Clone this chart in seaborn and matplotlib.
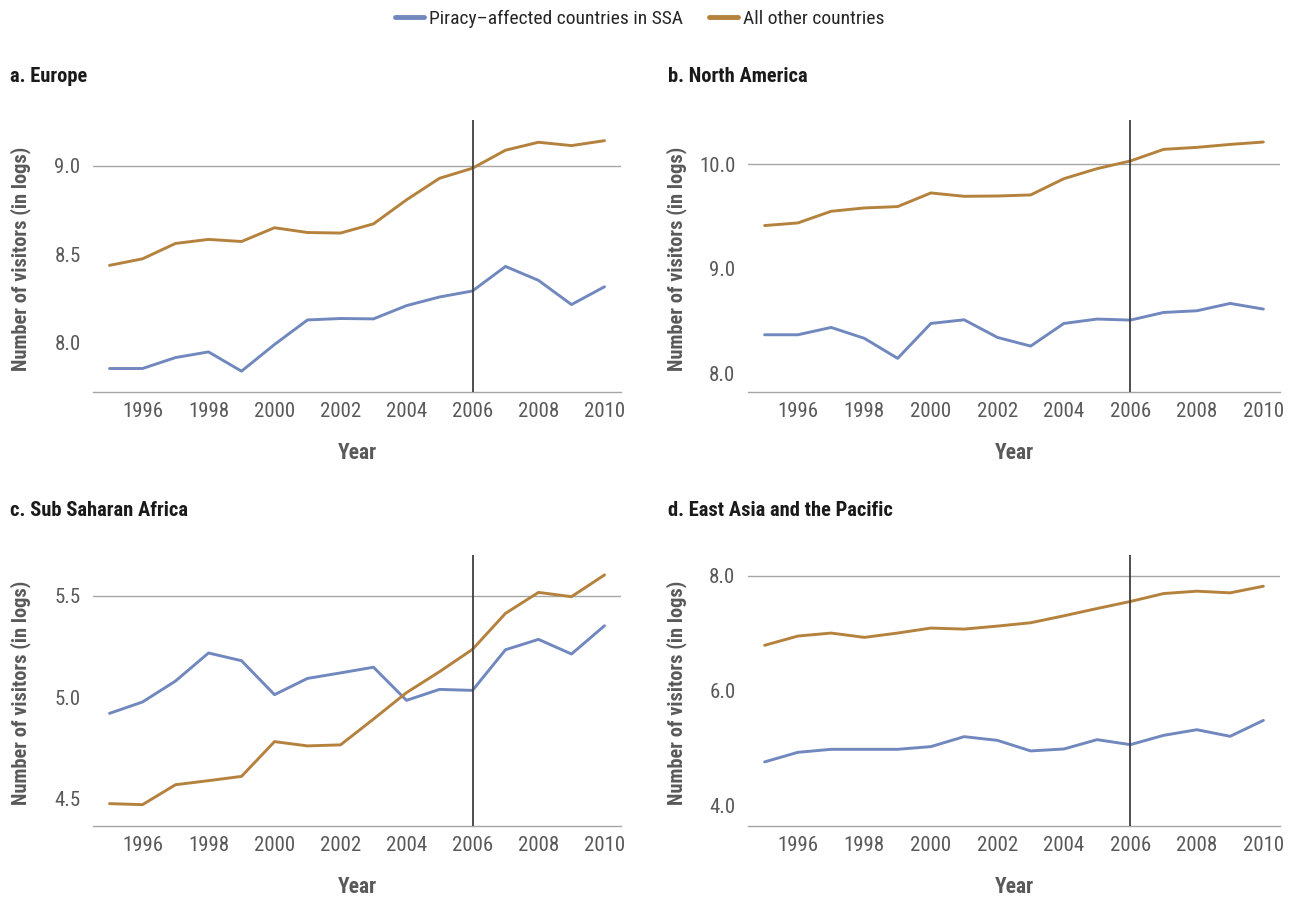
import numpy as np
import pandas as pd
import matplotlib
matplotlib.use("Agg")
import matplotlib.pyplot as plt
from matplotlib import font_manager
from matplotlib.lines import Line2D
import seaborn as sns

# ---------------- data ----------------
years = list(range(1995, 2011))

europe_piracy = [7.853, 7.853, 7.915, 7.947, 7.838, 7.989, 8.128, 8.136, 8.134, 8.209, 8.258, 8.292, 8.431, 8.352, 8.215, 8.316]
europe_other = [8.437, 8.474, 8.561, 8.584, 8.572, 8.650, 8.623, 8.620, 8.672, 8.808, 8.930, 8.987, 9.089, 9.134, 9.115, 9.143]

namerica_piracy = [8.371, 8.371, 8.441, 8.337, 8.146, 8.479, 8.514, 8.346, 8.263, 8.479, 8.521, 8.511, 8.584, 8.600, 8.670, 8.616]
namerica_other = [9.413, 9.438, 9.549, 9.581, 9.594, 9.724, 9.692, 9.695, 9.705, 9.860, 9.956, 10.029, 10.140, 10.159, 10.187, 10.210]

ssa_piracy = [4.921, 4.977, 5.080, 5.218, 5.180, 5.013, 5.093, 5.120, 5.148, 4.985, 5.039, 5.034, 5.234, 5.285, 5.213, 5.352]
ssa_other = [4.477, 4.472, 4.570, 4.590, 4.611, 4.782, 4.761, 4.766, 4.893, 5.023, 5.126, 5.236, 5.413, 5.516, 5.495, 5.602]

eap_piracy = [4.761, 4.928, 4.980, 4.980, 4.980, 5.027, 5.200, 5.136, 4.952, 4.986, 5.148, 5.061, 5.223, 5.321, 5.206, 5.483]
eap_other = [6.788, 6.949, 7.001, 6.926, 7.001, 7.088, 7.070, 7.122, 7.180, 7.301, 7.428, 7.550, 7.688, 7.729, 7.700, 7.815]

series_names = ["Piracy\u2013affected countries in SSA", "All other countries"]
panel_titles = ["a. Europe", "b. North America", "c. Sub Saharan Africa", "d. East Asia and the Pacific"]
panel_series = [
    (europe_piracy, europe_other),
    (namerica_piracy, namerica_other),
    (ssa_piracy, ssa_other),
    (eap_piracy, eap_other),
]
panel_yticks = [[8.0, 8.5, 9.0], [8.0, 9.0, 10.0], [4.5, 5.0, 5.5], [4.0, 6.0, 8.0]]
panel_ylims = [(7.72, 9.26), (7.825, 10.42), (4.367, 5.70), (3.647, 8.358)]
xticks = list(range(1996, 2011, 2))
event_year = 2006

# ---------------- style ----------------
sns.set_theme(style="white")
available = {f.name for f in font_manager.fontManager.ttflist}
family = None
for cand in ["Roboto Condensed", "Liberation Sans Narrow", "Open Sans Condensed", "Roboto", "DejaVu Sans"]:
    if cand in available:
        family = cand
        break
plt.rcParams["font.family"] = [family, "DejaVu Sans"]

blue = "#7188BE"
orange = "#B5823E"
palette = {series_names[0]: blue, series_names[1]: orange}
gray_txt = "#595959"

W, H = 1295, 898
fig = plt.figure(figsize=(W / 100, H / 100), dpi=100)

# axes rectangles in pixels: (left, top, right, bottom)
rects = [(93, 120, 621, 392), (748, 120, 1280, 392), (93, 555, 621, 826), (748, 555, 1280, 826)]
title_pos = [(10, 77), (668, 77), (10, 510), (668, 510)]
ylabel_right = [31, 687, 31, 687]

for i, (rect, title) in enumerate(zip(rects, panel_titles)):
    l, t, r, b = rect
    ax = fig.add_axes([l / W, 1 - b / H, (r - l) / W, (b - t) / H])
    piracy, other = panel_series[i]
    df = pd.DataFrame({
        "Year": years * 2,
        "value": list(piracy) + list(other),
        "series": [series_names[0]] * len(years) + [series_names[1]] * len(years),
    })
    sns.lineplot(data=df, x="Year", y="value", hue="series", palette=palette,
                 linewidth=2.1, legend=False, ax=ax, zorder=3)
    ax.set_xlim(1994.5, 2010.5)
    ax.set_ylim(*panel_ylims[i])
    ax.set_xticks(xticks)
    ax.set_xticklabels([str(y) for y in xticks])
    ax.set_yticks(panel_yticks[i])
    ax.set_yticklabels([f"{v:.1f}" for v in panel_yticks[i]])
    ax.tick_params(axis="both", length=0, labelsize=15, colors=gray_txt)
    ax.tick_params(axis="x", pad=7)
    ax.tick_params(axis="y", pad=9)
    for s in ["top", "right", "left"]:
        ax.spines[s].set_visible(False)
    ax.spines["bottom"].set_color("#A6A6A6")
    ax.spines["bottom"].set_linewidth(1.0)
    ax.axhline(panel_yticks[i][-1], color="#A6A6A6", lw=1.0, zorder=1)
    ax.axvline(event_year, color="#404040", lw=1.3, zorder=4)
    ax.grid(False)
    ax.set_ylabel("Number of visitors (in logs)", fontsize=14.7, fontweight="bold", color=gray_txt)
    ax.yaxis.set_label_coords((ylabel_right[i] - l) / (r - l), 0.49)
    ax.set_xlabel("Year", fontsize=15.5, fontweight="bold", color=gray_txt)
    ax.xaxis.set_label_coords(0.5, -(61) / (b - t))
    ax.xaxis.label.set_verticalalignment("center")
    tx, ty = title_pos[i]
    fig.text(tx / W, 1 - ty / H, title, fontsize=14.8, fontweight="bold", color="#1a1a1a",
             ha="left", va="center")

handles = [Line2D([0], [0], color=blue, lw=3.5, solid_capstyle="round"),
           Line2D([0], [0], color=orange, lw=3.5, solid_capstyle="round")]
fig.legend(handles, series_names, loc="center", bbox_to_anchor=(0.494, 1 - 19 / H), ncol=2,
           frameon=False, fontsize=14, handlelength=1.5, handletextpad=0.25,
           columnspacing=1.3, labelcolor="#262626")

fig.savefig("out.png", dpi=100)
